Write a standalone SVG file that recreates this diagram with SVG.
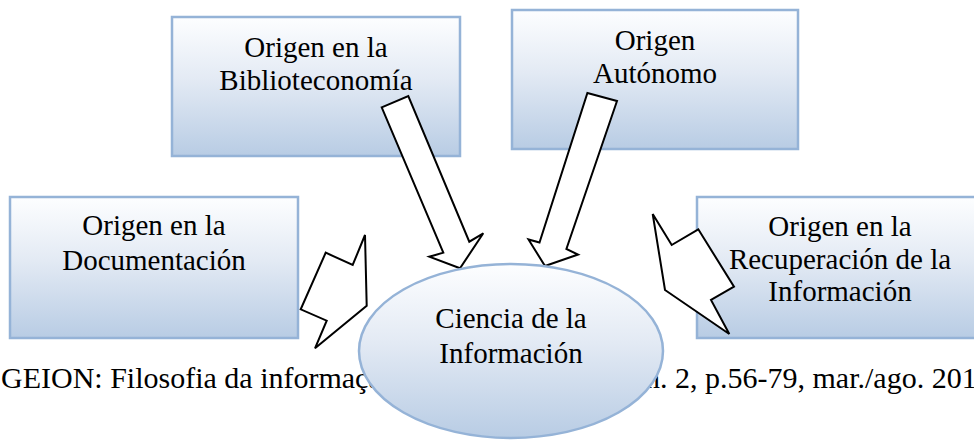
<svg xmlns="http://www.w3.org/2000/svg" width="974" height="440" viewBox="0 0 974 440">
<defs>
<linearGradient id="g" x1="0" y1="0" x2="0" y2="1">
<stop offset="0" stop-color="#fdfeff"/>
<stop offset="0.45" stop-color="#e3eaf4"/>
<stop offset="1" stop-color="#b8cce4"/>
</linearGradient>
<style>
.box{fill:url(#g);stroke:#95b3d7;stroke-width:2.5}
.arr{fill:#fff;stroke:#000;stroke-width:2;stroke-linejoin:miter}
</style>
</defs>
<rect width="974" height="440" fill="#fff"/>
<g id="caption" font-family="Liberation Serif, Times New Roman, serif" font-size="30" fill="#000">
<text x="1" y="388">GEION: Filosofia da informaçã</text>
<text x="645" y="388">n. 2, p.56-79, mar./ago. 201</text>
</g>
<g id="n1" font-family="Liberation Serif, Times New Roman, serif" font-size="29" text-anchor="middle">
<rect class="box" x="172" y="17" width="288" height="139"/>
<text x="316" y="57">Origen en la</text>
<text x="316" y="90">Biblioteconomía</text>
</g>
<g id="n2" font-family="Liberation Serif, Times New Roman, serif" font-size="29" text-anchor="middle">
<rect class="box" x="512" y="10" width="286" height="139"/>
<text x="655" y="50">Origen</text>
<text x="655" y="83">Autónomo</text>
</g>
<g id="n3" font-family="Liberation Serif, Times New Roman, serif" font-size="29" text-anchor="middle">
<rect class="box" x="10" y="197" width="288" height="141"/>
<text x="154" y="235">Origen en la</text>
<text x="154" y="270">Documentación</text>
</g>
<g id="n4">
<rect class="box" x="697" y="197" width="290" height="141"/>
</g>
<g id="connectors">
<polygon class="arr" points="381.7,107.3 408.3,96 469.3,241.7 483.3,233.3 460,268.3 429.3,256.7 443.3,252.7"/>
<polygon class="arr" points="587.4,93 617,101 566.4,249 578,254.5 545,266 528.5,239.5 539.5,242.5"/>
<polygon class="arr" points="365,235 352.7,265 325.7,252.7 300.7,309.3 326.7,320.7 315,348.3 366.7,305.7"/>
<polygon class="arr" points="652.7,214 671.7,245 698.3,229.3 734,286.7 711,300 729.3,334 665,290"/>
</g>
<g id="n4-label" font-family="Liberation Serif, Times New Roman, serif" font-size="29" text-anchor="middle">
<text x="840" y="236">Origen en la</text>
<text x="840" y="269">Recuperación de la</text>
<text x="840" y="301">Información</text>
</g>
<g id="n5" font-family="Liberation Serif, Times New Roman, serif" font-size="29" text-anchor="middle">
<ellipse cx="511" cy="351" rx="152" ry="87" fill="url(#g)" stroke="#95b3d7" stroke-width="2.5"/>
<text x="511" y="328">Ciencia de la</text>
<text x="511" y="363">Información</text>
</g>
</svg>
